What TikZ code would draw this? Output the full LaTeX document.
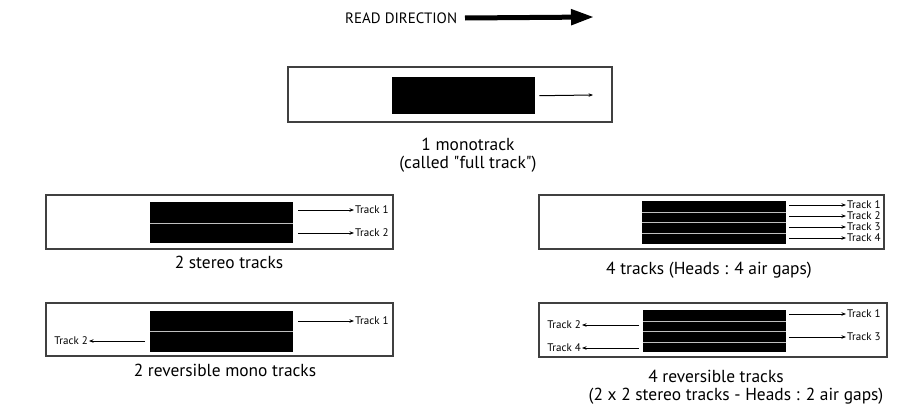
\documentclass[tikz,border=0pt]{standalone}
\usepackage{fontspec}
\setmainfont{PT Sans}[Ligatures=TeXOff]
\usetikzlibrary{arrows.meta,positioning}

\tikzset{
  tape/.style={draw=black!75, line width=1.1pt},
  head/.style={fill=black, inner sep=0pt, anchor=north west},
  gap/.style={draw=black!25, line width=0.9pt},
  trk/.style={-{Stealth[length=4.5pt,width=3.5pt]}, line width=1pt},
  lbl/.style={font=\fontsize{11}{12}\selectfont, inner sep=1pt},
  caption/.style={font=\fontsize{17.4}{20}\selectfont, inner sep=0pt, anchor=base},
  readlbl/.style={font=\fontsize{15}{17}\selectfont, inner sep=0pt},
  readarrow/.style={-{Triangle[length=23pt,width=15pt]}, line width=5pt}
}

\begin{document}
\begin{tikzpicture}[x=1pt,y=-1pt]
    \useasboundingbox[fill=white] (0,0) rectangle (906,407);

    % read direction
    \node[readlbl, anchor=west] (read) at (345,18) {READ DIRECTION};
    \coordinate (readend) at (594,17);
    \draw[readarrow] (read.east -| 465,0) -- (readend);

    % 1 monotrack
    \draw[tape] (288,67) rectangle (612,122);
    \node[head, minimum width=143, minimum height=37] (h0) at (392,77) {};
    \coordinate (e0) at (593,95);
    \draw[trk] ([xshift=4pt]h0.east) -- (e0);
    \node[caption] (c0a) at (468,150) {1 monotrack};
    \node[caption] (c0b) at (468,168) {(called "full track")};

    % 2 stereo tracks
    \draw[tape] (46,195) rectangle (393,249);
    \node[head, minimum width=143, minimum height=41] (h1) at (150,202) {};
    \draw[gap] (h1.west |- 0,223) -- (h1.east |- 0,223);
    \node[lbl, anchor=west] (t11) at (354,210) {Track 1};
    \node[lbl, anchor=west] (t12) at (354,233) {Track 2};
    \draw[trk] ([xshift=5pt]h1.east |- t11) -- (t11.west);
    \draw[trk] ([xshift=5pt]h1.east |- t12) -- (t12.west);
    \node[caption] (c1) at (229,268) {2 stereo tracks};

    % 4 tracks
    \draw[tape] (539,195) rectangle (884,249);
    \node[head, minimum width=144, minimum height=43] (h2) at (642,201) {};
    \foreach \y in {212,222,233}
        \draw[gap] (h2.west |- 0,\y) -- (h2.east |- 0,\y);
    \foreach \n/\y in {1/205,2/216,3/227,4/238} {
        \node[lbl, anchor=west, inner ysep=0pt] (t2\n) at (846,\y) {Track \n};
        \draw[trk] ([xshift=3pt]h2.east |- t2\n) -- (t2\n.west);
    }
    \node[caption] (c2) at (709,274) {4 tracks (Heads : 4 air gaps)};

    % 2 reversible mono tracks
    \draw[tape] (46,303) rectangle (393,356);
    \node[head, minimum width=143, minimum height=41] (h3) at (150,311) {};
    \draw[gap] (h3.west |- 0,331) -- (h3.east |- 0,331);
    \node[lbl, anchor=west] (t31) at (354,321) {Track 1};
    \node[lbl, anchor=east] (t32) at (89,341) {Track 2};
    \draw[trk] ([xshift=5pt]h3.east |- t31) -- (t31.west);
    \draw[trk] ([xshift=-5pt]h3.west |- t32) -- (t32.east);
    \node[caption] (c3) at (225,376) {2 reversible mono tracks};

    % 4 reversible tracks
    \draw[tape] (539,303) rectangle (887,357);
    \node[head, minimum width=143, minimum height=42] (h4) at (643,310) {};
    \foreach \y in {321,331,342}
        \draw[gap] (h4.west |- 0,\y) -- (h4.east |- 0,\y);
    \node[lbl, anchor=west] (t41) at (846,314) {Track 1};
    \node[lbl, anchor=west] (t43) at (846,337) {Track 3};
    \node[lbl, anchor=east] (t42) at (582,325) {Track 2};
    \node[lbl, anchor=east] (t44) at (582,348) {Track 4};
    \draw[trk] ([xshift=3pt]h4.east |- t41) -- (t41.west);
    \draw[trk] ([xshift=3pt]h4.east |- t43) -- (t43.west);
    \draw[trk] ([xshift=-4pt]h4.west |- t42) -- (t42.east);
    \draw[trk] ([xshift=-4pt]h4.west |- t44) -- (t44.east);
    \node[caption] (c4a) at (716,382) {4 reversible tracks};
    \node[caption] (c4b) at (736,400) {(2 x 2 stereo tracks - Heads : 2 air gaps)};
\end{tikzpicture}
\end{document}
